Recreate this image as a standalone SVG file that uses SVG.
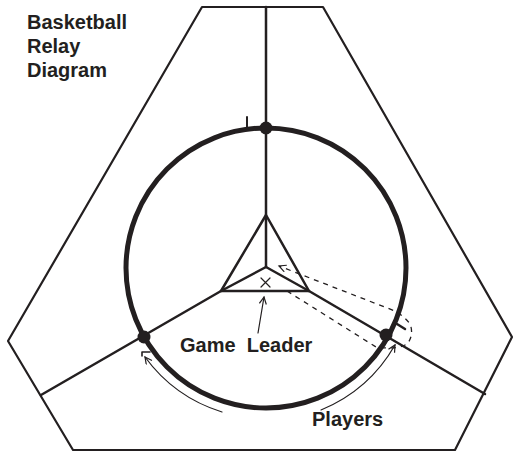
<svg xmlns="http://www.w3.org/2000/svg" width="514" height="455" viewBox="0 0 514 455">
<style>
.ln{stroke:#231f20;fill:none;stroke-linecap:round;stroke-linejoin:round}
.hex{stroke-width:2.2}
.sp{stroke-width:2.5}
.ring{stroke-width:5}
.thin{stroke-width:1.2}
.dash{stroke-width:1.3;stroke-dasharray:5 5;stroke-linecap:butt}
.dot{fill:#231f20}
.t{font-family:"Liberation Sans",Arial,sans-serif;font-weight:bold;font-size:20px;fill:#231f20;white-space:pre}
</style>
<defs>
<marker id="ah" markerWidth="10" markerHeight="10" refX="8" refY="4" orient="auto" markerUnits="userSpaceOnUse">
<path d="M1,0.5 L8,4 L1,7.5" fill="none" stroke="#231f20" stroke-width="1.2"/>
</marker>
</defs>
<rect width="514" height="455" fill="#fff"/>
<g id="court">
<polygon class="ln hex" points="202,7 323,7 512,337 455,450 73,450 8,341"/>
<line class="ln sp" x1="266" y1="7" x2="266" y2="267"/>
<line class="ln sp" x1="221" y1="291" x2="41" y2="395"/>
<line class="ln sp" x1="309" y1="291" x2="485" y2="394"/>
</g>
<g id="circle">
<circle class="ln ring" cx="266" cy="268" r="140"/>
<circle class="dot" cx="266" cy="128" r="6.5"/>
<circle class="dot" cx="144" cy="337" r="6.5"/>
<circle class="dot" cx="386" cy="335" r="6.5"/>
<line class="ln" stroke-width="2" x1="247" y1="117" x2="247" y2="127"/>
<line class="ln" stroke-width="2.5" x1="397" y1="324" x2="405" y2="329"/>
<path class="ln" stroke-width="1.6" d="M142,356 L142,352 L150,352"/>
</g>
<g id="triangle">
<polygon class="ln sp" points="266,215 309,291 221,291"/>
<line class="ln sp" x1="266" y1="267" x2="221" y2="291"/>
<line class="ln sp" x1="266" y1="267" x2="309" y2="291"/>
</g>
<g id="leader">
<path class="ln thin" d="M261,278 L270,287 M270,278 L261,287"/>
<text class="t" x="180" y="352" xml:space="preserve">Game  Leader</text>
</g>
<g id="players">
<text class="t" x="312" y="426">Players</text>
</g>
<g id="title">
<text class="t" x="27" y="29">Basketball</text>
<text class="t" x="27" y="53">Relay</text>
<text class="t" x="27" y="77">Diagram</text>
</g>
<g id="connectors">
<line class="ln thin" x1="258" y1="333" x2="264" y2="297" marker-end="url(#ah)"/>
<path class="ln thin" d="M222,412 A151,151 0 0 1 145,357" marker-end="url(#ah)"/>
<path class="ln thin" d="M321,410 A152,152 0 0 0 395,345" marker-end="url(#ah)"/>
<path class="ln dash" d="M287,291 L376,347 Q400,350 408,343 Q414,334 410,324 Q404,316 395,311 L279,266" marker-end="url(#ah)"/>
</g>
</svg>
